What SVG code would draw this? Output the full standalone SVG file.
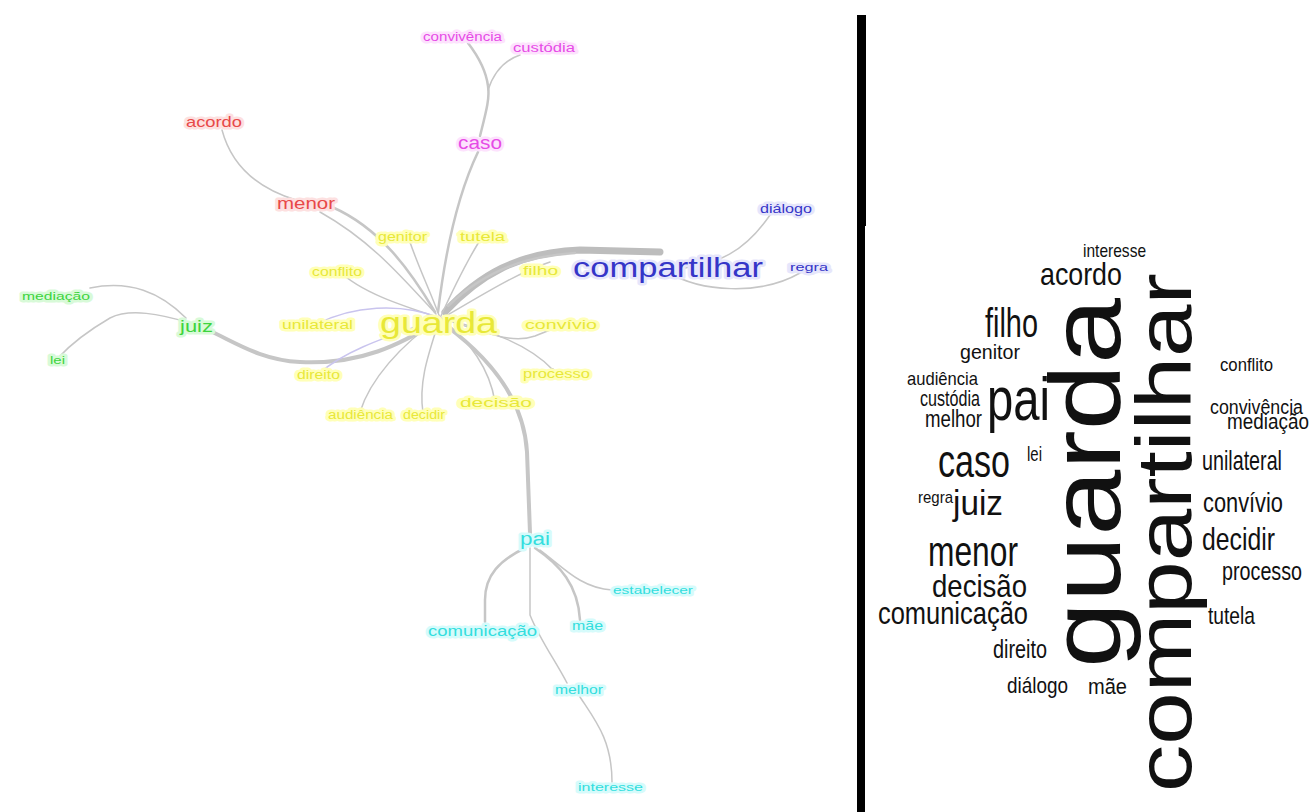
<svg xmlns="http://www.w3.org/2000/svg" width="1312" height="812" viewBox="0 0 1312 812">
<style>
  text { font-family: "Liberation Sans", Arial, sans-serif; }
  .e { fill: none; stroke: #c6c6c6; stroke-linecap: round; }
  .e1 { stroke-width: 1.5; }
  .e2 { stroke-width: 2.5; }
  .e3 { stroke-width: 4; }
  .e4 { stroke-width: 7; stroke: #bdbdbd; }
  .lav { stroke: #c9c4ee; }
  .lbl { paint-order: stroke; stroke-width: 5; stroke-linejoin: round; }
  .y { fill: #e8e838; stroke: #ffffb8; }
  .m { fill: #e64ce6; stroke: #fde2fd; }
  .r { fill: #e84848; stroke: #fde0e0; }
  .g { fill: #3ed43e; stroke: #d8fad8; }
  .b { fill: #3535c8; stroke: #e6e6fb; }
  .c { fill: #33dede; stroke: #d6fbfb; }
  .dot { fill: #7a7a7a; }
  .w { fill: #111; }
</style>
<rect width="1312" height="812" fill="#ffffff"/>

<g id="connectors">
  <path class="e e4" d="M445,312 C478,276 518,252 580,250 L660,252"/>
  <path class="e e2" d="M448,306 C488,268 530,256 575,253"/>
  <path class="e e1" d="M446,316 C490,290 520,272 550,262"/>
  <path class="e e3" d="M445,325 C490,358 524,400 527,452 L530,533"/>
  <path class="e e3" d="M440,320 C400,345 360,365 300,362 C260,360 235,342 208,330"/>
  <path class="e e2" d="M435,312 C410,270 380,228 332,207"/>
  <path class="e e1" d="M436,314 C400,275 370,240 320,212"/>
  <path class="e e2" d="M438,312 C444,262 455,200 478,152"/>
  <path class="e e2" d="M480,136 C486,112 490,98 488,86 C486,70 478,56 468,43"/>
  <path class="e e1" d="M488,90 C494,72 505,60 520,55"/>
  <path class="e e1" d="M222,130 C230,160 250,186 296,200"/>
  <path class="e e1" d="M90,288 C130,280 160,292 186,318"/>
  <path class="e e1" d="M190,323 C160,314 130,308 110,318 C86,332 70,345 58,358"/>
  <path class="e e1" d="M668,270 C720,266 746,250 770,215"/>
  <path class="e e1" d="M668,272 C700,292 760,296 800,273"/>
  <path class="e e2" d="M525,548 C500,560 485,575 485,600 L485,622"/>
  <path class="e e2" d="M535,548 C560,565 578,585 580,620"/>
  <path class="e e1" d="M540,550 C562,566 580,588 612,590"/>
  <path class="e e1" d="M530,548 L530,615 C540,640 555,660 567,683"/>
  <path class="e e1" d="M580,697 C595,720 612,740 612,782"/>
  <path class="e e1" d="M440,318 C430,290 415,260 407,233"/>
  <path class="e e1" d="M440,318 C455,285 470,255 484,234"/>
  <path class="e e1" d="M440,318 C400,305 360,292 338,270"/>
  <path class="e e1 lav" d="M440,318 C400,302 352,306 317,324"/>
  <path class="e e1" d="M440,318 C480,330 510,345 535,336 C550,330 560,326 566,323"/>
  <path class="e e1 lav" d="M440,318 C390,336 345,350 320,373"/>
  <path class="e e1" d="M440,318 C490,330 530,345 553,370"/>
  <path class="e e1" d="M440,318 C400,345 370,380 360,412"/>
  <path class="e e1" d="M440,318 C430,350 418,380 423,413"/>
  <path class="e e1" d="M440,318 C470,340 490,370 495,402"/>
  <circle class="dot" cx="407" cy="233" r="1.5"/>
  <circle class="dot" cx="484" cy="234" r="1.5"/>
  <circle class="dot" cx="338" cy="270" r="1.5"/>
  <circle class="dot" cx="317" cy="323" r="1.5"/>
  <circle class="dot" cx="320" cy="373" r="1.5"/>
  <circle class="dot" cx="553" cy="370" r="1.5"/>
  <circle class="dot" cx="360" cy="412" r="1.5"/>
  <circle class="dot" cx="423" cy="413" r="1.5"/>
  <circle class="dot" cx="495" cy="402" r="1.5"/>
</g>

<g id="graph-nodes">
  <g id="n-genitor"><text class="lbl y" x="378" y="241" font-size="12" textLength="49" lengthAdjust="spacingAndGlyphs">genitor</text></g>
  <g id="n-tutela"><text class="lbl y" x="460" y="241" font-size="12" textLength="45" lengthAdjust="spacingAndGlyphs">tutela</text></g>
  <g id="n-conflito"><text class="lbl y" x="312" y="276" font-size="12" textLength="50" lengthAdjust="spacingAndGlyphs">conflito</text></g>
  <g id="n-filho"><text class="lbl y" x="523" y="275" font-size="12" textLength="35" lengthAdjust="spacingAndGlyphs">filho</text></g>
  <g id="n-unilateral"><text class="lbl y" x="282" y="329" font-size="12" textLength="71" lengthAdjust="spacingAndGlyphs">unilateral</text></g>
  <g id="n-convivio"><text class="lbl y" x="525" y="329" font-size="12" textLength="72" lengthAdjust="spacingAndGlyphs">convívio</text></g>
  <g id="n-direito"><text class="lbl y" x="297" y="379" font-size="12" textLength="43" lengthAdjust="spacingAndGlyphs">direito</text></g>
  <g id="n-processo"><text class="lbl y" x="523" y="378" font-size="12" textLength="67" lengthAdjust="spacingAndGlyphs">processo</text></g>
  <g id="n-audiencia"><text class="lbl y" x="328" y="419" font-size="12" textLength="65" lengthAdjust="spacingAndGlyphs">audiência</text></g>
  <g id="n-decidir"><text class="lbl y" x="403" y="419" font-size="12" textLength="42" lengthAdjust="spacingAndGlyphs">decidir</text></g>
  <g id="n-decisao"><text class="lbl y" x="460" y="407" font-size="12" textLength="72" lengthAdjust="spacingAndGlyphs">decisão</text></g>
  <g id="n-guarda"><text class="lbl y" x="380" y="333" font-size="30" textLength="117" lengthAdjust="spacingAndGlyphs">guarda</text></g>

  <g id="n-compartilhar"><text class="lbl b" x="573" y="277" font-size="27" textLength="190" lengthAdjust="spacingAndGlyphs">compartilhar</text></g>
  <g id="n-dialogo"><text class="lbl b" x="760" y="213" font-size="12" textLength="52" lengthAdjust="spacingAndGlyphs">diálogo</text></g>
  <g id="n-regra"><text class="lbl b" x="790" y="271" font-size="10" textLength="38" lengthAdjust="spacingAndGlyphs">regra</text></g>

  <g id="n-caso"><text class="lbl m" x="458" y="149" font-size="18" textLength="44" lengthAdjust="spacingAndGlyphs">caso</text></g>
  <g id="n-convivencia"><text class="lbl m" x="423" y="41" font-size="12" textLength="79" lengthAdjust="spacingAndGlyphs">convivência</text></g>
  <g id="n-custodia"><text class="lbl m" x="513" y="52" font-size="12" textLength="62" lengthAdjust="spacingAndGlyphs">custódia</text></g>

  <g id="n-acordo"><text class="lbl r" x="186" y="127" font-size="15" textLength="56" lengthAdjust="spacingAndGlyphs">acordo</text></g>
  <g id="n-menor"><text class="lbl r" x="277" y="209" font-size="16" textLength="58" lengthAdjust="spacingAndGlyphs">menor</text></g>

  <g id="n-juiz"><text class="lbl g" x="180" y="332" font-size="17" textLength="33" lengthAdjust="spacingAndGlyphs">juiz</text></g>
  <g id="n-mediacao"><text class="lbl g" x="22" y="300" font-size="11" textLength="68" lengthAdjust="spacingAndGlyphs">mediação</text></g>
  <g id="n-lei"><text class="lbl g" x="50" y="364" font-size="11" textLength="15" lengthAdjust="spacingAndGlyphs">lei</text></g>

  <g id="n-pai"><text class="lbl c" x="520" y="545" font-size="18" textLength="30" lengthAdjust="spacingAndGlyphs">pai</text></g>
  <g id="n-estabelecer"><text class="lbl c" x="613" y="594" font-size="11" textLength="80" lengthAdjust="spacingAndGlyphs">estabelecer</text></g>
  <g id="n-comunicacao"><text class="lbl c" x="428" y="636" font-size="14" textLength="109" lengthAdjust="spacingAndGlyphs">comunicação</text></g>
  <g id="n-mae"><text class="lbl c" x="572" y="630" font-size="12" textLength="31" lengthAdjust="spacingAndGlyphs">mãe</text></g>
  <g id="n-melhor"><text class="lbl c" x="555" y="694" font-size="12" textLength="48" lengthAdjust="spacingAndGlyphs">melhor</text></g>
  <g id="n-interesse"><text class="lbl c" x="578" y="791" font-size="11" textLength="65" lengthAdjust="spacingAndGlyphs">interesse</text></g>
</g>

<g id="divider">
  <rect x="857" y="15" width="9" height="211" fill="#000"/>
  <rect x="857" y="226" width="8" height="586" fill="#000"/>
</g>

<g id="wordcloud">
  <text class="w" transform="translate(1120,668) rotate(-90) scale(1,0.83)" font-size="121" textLength="370" lengthAdjust="spacingAndGlyphs">guarda</text>
  <text class="w" transform="translate(1191,792) rotate(-90) scale(1,0.82)" font-size="94" textLength="519" lengthAdjust="spacingAndGlyphs">compartilhar</text>
  <g transform="scale(0.78,1)">
    <text class="w" x="1388.5" y="257" font-size="18" textLength="80.8" lengthAdjust="spacingAndGlyphs">interesse</text>
    <text class="w" x="1333.3" y="285" font-size="32" textLength="105.1" lengthAdjust="spacingAndGlyphs">acordo</text>
    <text class="w" x="1262.8" y="337" font-size="40" textLength="67.9" lengthAdjust="spacingAndGlyphs">filho</text>
    <text class="w" x="1230.8" y="359" font-size="20" textLength="76.9" lengthAdjust="spacingAndGlyphs">genitor</text>
    <text class="w" x="1564.1" y="371" font-size="18" textLength="67.9" lengthAdjust="spacingAndGlyphs">conflito</text>
    <text class="w" x="1162.8" y="385" font-size="18" textLength="91" lengthAdjust="spacingAndGlyphs">audiência</text>
    <text class="w" x="1179.5" y="406" font-size="22" textLength="76.9" lengthAdjust="spacingAndGlyphs">custódia</text>
    <text class="w" x="1185.9" y="427" font-size="24" textLength="73.1" lengthAdjust="spacingAndGlyphs">melhor</text>
    <text class="w" x="1265.4" y="420" font-size="62" textLength="80.8" lengthAdjust="spacingAndGlyphs">pai</text>
    <text class="w" x="1551.3" y="414" font-size="21" textLength="119.2" lengthAdjust="spacingAndGlyphs">convivência</text>
    <text class="w" x="1573.1" y="429" font-size="22" textLength="105" lengthAdjust="spacingAndGlyphs">mediação</text>
    <text class="w" x="1316.7" y="461" font-size="20" textLength="19.2" lengthAdjust="spacingAndGlyphs">lei</text>
    <text class="w" x="1202.6" y="477" font-size="46" textLength="92.3" lengthAdjust="spacingAndGlyphs">caso</text>
    <text class="w" x="1541" y="470" font-size="27" textLength="102.6" lengthAdjust="spacingAndGlyphs">unilateral</text>
    <text class="w" x="1176.9" y="503" font-size="16" textLength="44.9" lengthAdjust="spacingAndGlyphs">regra</text>
    <text class="w" x="1221.8" y="515" font-size="36" textLength="64.1" lengthAdjust="spacingAndGlyphs">juiz</text>
    <text class="w" x="1542.3" y="512" font-size="28" textLength="102.6" lengthAdjust="spacingAndGlyphs">convívio</text>
    <text class="w" x="1541" y="550" font-size="31" textLength="93.6" lengthAdjust="spacingAndGlyphs">decidir</text>
    <text class="w" x="1189.7" y="566" font-size="42" textLength="115.4" lengthAdjust="spacingAndGlyphs">menor</text>
    <text class="w" x="1566.7" y="580" font-size="26" textLength="102.6" lengthAdjust="spacingAndGlyphs">processo</text>
    <text class="w" x="1194.9" y="597" font-size="32" textLength="121.8" lengthAdjust="spacingAndGlyphs">decisão</text>
    <text class="w" x="1125.6" y="624" font-size="32" textLength="192.3" lengthAdjust="spacingAndGlyphs">comunicação</text>
    <text class="w" x="1548.7" y="624" font-size="24" textLength="60.3" lengthAdjust="spacingAndGlyphs">tutela</text>
    <text class="w" x="1273.1" y="658" font-size="26" textLength="69.2" lengthAdjust="spacingAndGlyphs">direito</text>
    <text class="w" x="1291" y="693" font-size="22" textLength="78.2" lengthAdjust="spacingAndGlyphs">diálogo</text>
    <text class="w" x="1394.9" y="694" font-size="22" textLength="50" lengthAdjust="spacingAndGlyphs">mãe</text>
  </g>
</g>
</svg>
